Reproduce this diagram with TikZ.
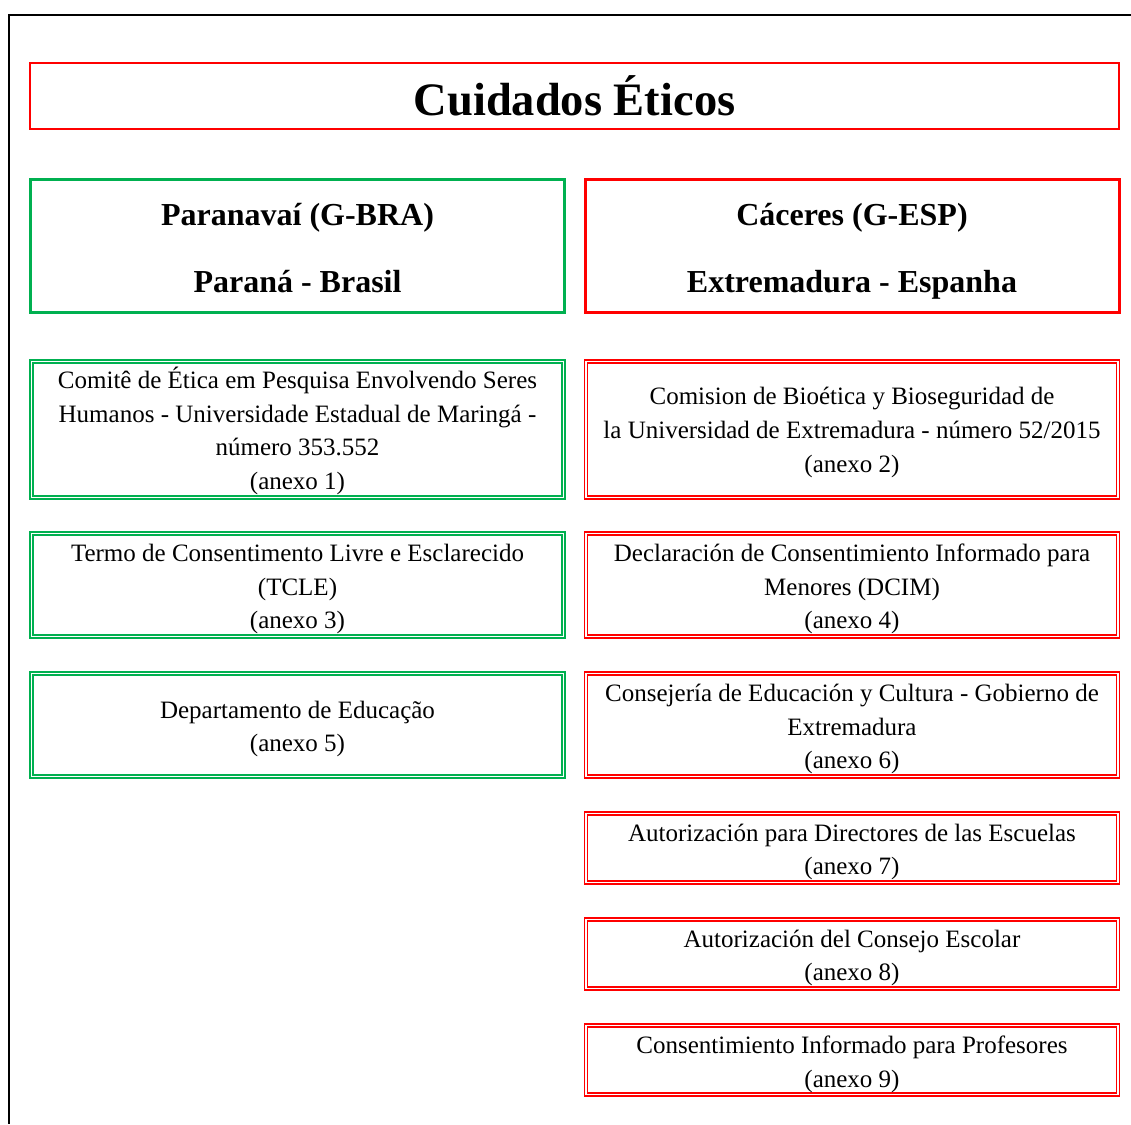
\documentclass[tikz,border=0pt]{standalone}
\usepackage{fontspec}
\setmainfont{Liberation Serif}
\usetikzlibrary{positioning}
\definecolor{cered}{HTML}{FF0000}
\definecolor{cegreen}{HTML}{00B050}
\tikzset{
  cetitle/.style={
    draw=cered, line width=2pt, minimum width=1089pt, minimum height=66pt,
    inner sep=0pt, font=\fontsize{46.5}{52}\selectfont\bfseries},
  cehead/.style={
    draw, line width=3pt, minimum width=534pt, minimum height=133pt,
    inner sep=0pt},
  ceheadtext/.style={
    align=center, inner sep=0pt, yshift=-5.5pt,
    font=\fontsize{32}{67}\selectfont\bfseries},
  cebox/.style={
    draw, double, double distance=1.6pt, line width=1.3pt,
    minimum width=532pt, inner sep=0pt},
  cetext/.style={
    align=center, inner sep=0pt, yshift=-4pt,
    font=\fontsize{25}{33.8}\selectfont},
  every picture/.style={line cap=butt},
}
\begin{document}
\begin{tikzpicture}[x=1pt, y=-1pt]
\useasboundingbox (0, 0) rectangle (1131, 1124);

% Outer frame (only top and left edges visible).
\coordinate (frametop) at (1131, 15);
\coordinate (framebot) at (9, 1124);
\draw[line width=2pt] (frametop) -| (framebot);

% Header.
\node[cetitle] (title) at (574.5, 96) {Cuidados Éticos};

% Brazilian group.
\node[cehead, draw=cegreen] (bra) at (297.5, 246) {};
\node[ceheadtext] (bratxt) at (bra)
  {Paranavaí (G-BRA)\\Paraná - Brasil\vphantom{p}};
\node[cebox, draw=cegreen, minimum height=136pt] (bra1) at (297.5, 429.5) {};
\node[cetext, yshift=2.5pt] (bra1txt) at (bra1)
  {Comitê de Ética em Pesquisa Envolvendo Seres\\
   Humanos - Universidade Estadual de Maringá -\\
   número 353.552\\(anexo 1)};
\node[cebox, draw=cegreen, minimum height=103pt] (bra2) at (297.5, 585) {};
\node[cetext] (bra2txt) at (bra2)
  {Termo de Consentimento Livre e Esclarecido\\(TCLE)\\(anexo 3)};
\node[cebox, draw=cegreen, minimum height=103pt] (bra3) at (297.5, 725) {};
\node[cetext] (bra3txt) at (bra3)
  {Departamento de Educação\\(anexo 5)};

% Spanish group.
\node[cehead, draw=cered] (esp) at (852, 246) {};
\node[ceheadtext] (esptxt) at (esp)
  {Cáceres (G-ESP)\\Extremadura - Espanha};
\node[cebox, draw=cered, minimum height=136pt] (esp1) at (852, 429.5) {};
\node[cetext, yshift=1pt] (esp1txt) at (esp1)
  {Comision de Bioética y Bioseguridad de\\
   la Universidad de Extremadura - número 52/2015\\(anexo 2)};
\node[cebox, draw=cered, minimum height=103pt] (esp2) at (852, 585) {};
\node[cetext] (esp2txt) at (esp2)
  {Declaración de Consentimiento Informado para\\
   Menores (DCIM)\\(anexo 4)};
\node[cebox, draw=cered, minimum height=103pt] (esp3) at (852, 725) {};
\node[cetext] (esp3txt) at (esp3)
  {Consejería de Educación y Cultura - Gobierno de\\
   Extremadura\\(anexo 6)};
\node[cebox, draw=cered, minimum height=69pt] (esp4) at (852, 848) {};
\node[cetext] (esp4txt) at (esp4)
  {Autorización para Directores de las Escuelas\\(anexo 7)};
\node[cebox, draw=cered, minimum height=69pt] (esp5) at (852, 954) {};
\node[cetext] (esp5txt) at (esp5)
  {Autorización del Consejo Escolar\\(anexo 8)};
\node[cebox, draw=cered, minimum height=69pt] (esp6) at (852, 1060) {};
\node[cetext] (esp6txt) at (esp6)
  {Consentimiento Informado para Profesores\\(anexo 9)};

\end{tikzpicture}
\end{document}
